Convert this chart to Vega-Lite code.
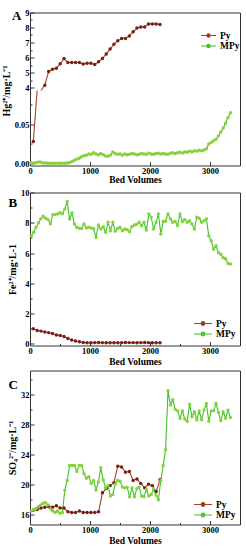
{
  "$schema": "https://vega.github.io/schema/vega-lite/v6.json",
  "padding": {"left": 0, "top": 7.5, "right": 3, "bottom": 1},
  "spacing": 3,
  "datasets": {
    "rows": [
      {"s":"Py","bv":55,"hg":0.028,"fe":1.0,"so4":16.5},
      {"s":"Py","bv":119,"hg":0.12,"fe":0.89,"so4":16.6},
      {"s":"Py","bv":183,"hg":3.0,"fe":0.85,"so4":16.8},
      {"s":"Py","bv":247,"hg":4.15,"fe":0.79,"so4":16.9},
      {"s":"Py","bv":311,"hg":5.07,"fe":0.75,"so4":17.0},
      {"s":"Py","bv":375,"hg":5.22,"fe":0.69,"so4":16.9},
      {"s":"Py","bv":439,"hg":5.29,"fe":0.6,"so4":17.1},
      {"s":"Py","bv":503,"hg":5.58,"fe":0.56,"so4":16.8},
      {"s":"Py","bv":567,"hg":5.93,"fe":0.49,"so4":16.8},
      {"s":"Py","bv":631,"hg":5.67,"fe":0.36,"so4":16.3},
      {"s":"Py","bv":695,"hg":5.67,"fe":0.26,"so4":16.2},
      {"s":"Py","bv":759,"hg":5.67,"fe":0.2,"so4":16.2},
      {"s":"Py","bv":823,"hg":5.67,"fe":0.15,"so4":16.4},
      {"s":"Py","bv":887,"hg":5.56,"fe":0.1,"so4":16.2},
      {"s":"Py","bv":951,"hg":5.62,"fe":0.08,"so4":16.2},
      {"s":"Py","bv":1015,"hg":5.62,"fe":0.08,"so4":16.2},
      {"s":"Py","bv":1079,"hg":5.53,"fe":0.09,"so4":16.2},
      {"s":"Py","bv":1143,"hg":5.71,"fe":0.1,"so4":16.3},
      {"s":"Py","bv":1207,"hg":5.93,"fe":0.09,"so4":18.84},
      {"s":"Py","bv":1271,"hg":6.24,"fe":0.08,"so4":19.4},
      {"s":"Py","bv":1335,"hg":6.56,"fe":0.08,"so4":19.8},
      {"s":"Py","bv":1399,"hg":6.89,"fe":0.08,"so4":20.2},
      {"s":"Py","bv":1463,"hg":7.11,"fe":0.08,"so4":22.4},
      {"s":"Py","bv":1527,"hg":7.27,"fe":0.09,"so4":22.3},
      {"s":"Py","bv":1591,"hg":7.27,"fe":0.1,"so4":21.6},
      {"s":"Py","bv":1655,"hg":7.44,"fe":0.09,"so4":21.7},
      {"s":"Py","bv":1719,"hg":7.71,"fe":0.09,"so4":20.5},
      {"s":"Py","bv":1783,"hg":7.96,"fe":0.08,"so4":20.7},
      {"s":"Py","bv":1847,"hg":8.04,"fe":0.09,"so4":20.1},
      {"s":"Py","bv":1911,"hg":8.04,"fe":0.1,"so4":19.5},
      {"s":"Py","bv":1975,"hg":8.24,"fe":0.09,"so4":20.0},
      {"s":"Py","bv":2039,"hg":8.24,"fe":0.08,"so4":19.8},
      {"s":"Py","bv":2103,"hg":8.24,"fe":0.08,"so4":19.0},
      {"s":"Py","bv":2167,"hg":8.2,"fe":0.08,"so4":20.6},
      {"s":"MPy","bv":20,"hg":0.001,"fe":7.14,"so4":16.44},
      {"s":"MPy","bv":60,"hg":0.001,"fe":7.37,"so4":16.6},
      {"s":"MPy","bv":100,"hg":0.0015,"fe":7.7,"so4":16.75},
      {"s":"MPy","bv":140,"hg":0.0025,"fe":7.99,"so4":17.0},
      {"s":"MPy","bv":180,"hg":0.002,"fe":8.26,"so4":17.2},
      {"s":"MPy","bv":220,"hg":0.001,"fe":8.43,"so4":17.45},
      {"s":"MPy","bv":260,"hg":0.001,"fe":8.3,"so4":17.5},
      {"s":"MPy","bv":300,"hg":0.0008,"fe":8.21,"so4":17.2},
      {"s":"MPy","bv":340,"hg":0.0008,"fe":7.94,"so4":16.7},
      {"s":"MPy","bv":380,"hg":0.0008,"fe":8.54,"so4":16.4},
      {"s":"MPy","bv":420,"hg":0.0008,"fe":8.54,"so4":16.2},
      {"s":"MPy","bv":460,"hg":0.0008,"fe":8.59,"so4":16.4},
      {"s":"MPy","bv":500,"hg":0.0008,"fe":8.66,"so4":16.1},
      {"s":"MPy","bv":540,"hg":0.0008,"fe":8.59,"so4":16.2},
      {"s":"MPy","bv":580,"hg":0.0008,"fe":8.92,"so4":19.2},
      {"s":"MPy","bv":620,"hg":0.001,"fe":9.41,"so4":20.5},
      {"s":"MPy","bv":660,"hg":0.0015,"fe":8.25,"so4":22.5},
      {"s":"MPy","bv":700,"hg":0.003,"fe":8.65,"so4":22.5},
      {"s":"MPy","bv":740,"hg":0.0045,"fe":7.92,"so4":22.5},
      {"s":"MPy","bv":780,"hg":0.006,"fe":7.7,"so4":21.7},
      {"s":"MPy","bv":820,"hg":0.007,"fe":7.64,"so4":22.5},
      {"s":"MPy","bv":860,"hg":0.009,"fe":7.63,"so4":22.5},
      {"s":"MPy","bv":900,"hg":0.0105,"fe":7.92,"so4":21.4},
      {"s":"MPy","bv":940,"hg":0.011,"fe":7.66,"so4":20.8},
      {"s":"MPy","bv":980,"hg":0.0125,"fe":7.7,"so4":21.0},
      {"s":"MPy","bv":1020,"hg":0.012,"fe":7.66,"so4":20.1},
      {"s":"MPy","bv":1060,"hg":0.014,"fe":7.6,"so4":20.5},
      {"s":"MPy","bv":1100,"hg":0.0125,"fe":7.03,"so4":19.2},
      {"s":"MPy","bv":1140,"hg":0.0115,"fe":7.86,"so4":20.3},
      {"s":"MPy","bv":1180,"hg":0.013,"fe":7.59,"so4":22.2},
      {"s":"MPy","bv":1220,"hg":0.0115,"fe":7.74,"so4":20.6},
      {"s":"MPy","bv":1260,"hg":0.01,"fe":7.37,"so4":19.5},
      {"s":"MPy","bv":1300,"hg":0.0095,"fe":8.03,"so4":19.8},
      {"s":"MPy","bv":1340,"hg":0.011,"fe":7.48,"so4":18.4},
      {"s":"MPy","bv":1380,"hg":0.015,"fe":8.03,"so4":18.6},
      {"s":"MPy","bv":1420,"hg":0.013,"fe":7.45,"so4":20.0},
      {"s":"MPy","bv":1460,"hg":0.012,"fe":7.63,"so4":20.5},
      {"s":"MPy","bv":1500,"hg":0.0125,"fe":7.7,"so4":20.4},
      {"s":"MPy","bv":1540,"hg":0.011,"fe":7.48,"so4":19.6},
      {"s":"MPy","bv":1580,"hg":0.0125,"fe":7.59,"so4":19.5},
      {"s":"MPy","bv":1620,"hg":0.0115,"fe":7.54,"so4":19.6},
      {"s":"MPy","bv":1660,"hg":0.012,"fe":7.41,"so4":18.3},
      {"s":"MPy","bv":1700,"hg":0.013,"fe":7.75,"so4":19.5},
      {"s":"MPy","bv":1740,"hg":0.0125,"fe":7.86,"so4":18.3},
      {"s":"MPy","bv":1780,"hg":0.0115,"fe":7.9,"so4":19.4},
      {"s":"MPy","bv":1820,"hg":0.012,"fe":8.03,"so4":19.6},
      {"s":"MPy","bv":1860,"hg":0.013,"fe":7.81,"so4":18.4},
      {"s":"MPy","bv":1900,"hg":0.0125,"fe":8.03,"so4":18.3},
      {"s":"MPy","bv":1940,"hg":0.012,"fe":7.52,"so4":19.3},
      {"s":"MPy","bv":1980,"hg":0.0135,"fe":8.59,"so4":18.4},
      {"s":"MPy","bv":2020,"hg":0.0125,"fe":8.37,"so4":18.6},
      {"s":"MPy","bv":2060,"hg":0.012,"fe":7.59,"so4":19.4},
      {"s":"MPy","bv":2100,"hg":0.013,"fe":8.03,"so4":18.5},
      {"s":"MPy","bv":2140,"hg":0.0135,"fe":8.59,"so4":17.9},
      {"s":"MPy","bv":2180,"hg":0.0125,"fe":7.26,"so4":20.5},
      {"s":"MPy","bv":2220,"hg":0.013,"fe":8.08,"so4":22.5},
      {"s":"MPy","bv":2260,"hg":0.0125,"fe":8.1,"so4":24.6},
      {"s":"MPy","bv":2300,"hg":0.012,"fe":8.59,"so4":32.5},
      {"s":"MPy","bv":2340,"hg":0.0135,"fe":8.26,"so4":30.6},
      {"s":"MPy","bv":2380,"hg":0.014,"fe":8.03,"so4":31.3},
      {"s":"MPy","bv":2420,"hg":0.013,"fe":8.08,"so4":30.0},
      {"s":"MPy","bv":2460,"hg":0.014,"fe":7.81,"so4":29.8},
      {"s":"MPy","bv":2500,"hg":0.0145,"fe":8.59,"so4":28.8},
      {"s":"MPy","bv":2540,"hg":0.0135,"fe":8.08,"so4":29.8},
      {"s":"MPy","bv":2580,"hg":0.015,"fe":8.21,"so4":28.7},
      {"s":"MPy","bv":2620,"hg":0.0145,"fe":8.03,"so4":28.4},
      {"s":"MPy","bv":2660,"hg":0.016,"fe":8.14,"so4":30.7},
      {"s":"MPy","bv":2700,"hg":0.015,"fe":7.92,"so4":29.0},
      {"s":"MPy","bv":2740,"hg":0.0165,"fe":7.59,"so4":29.7},
      {"s":"MPy","bv":2780,"hg":0.016,"fe":8.37,"so4":28.6},
      {"s":"MPy","bv":2820,"hg":0.017,"fe":8.3,"so4":29.8},
      {"s":"MPy","bv":2860,"hg":0.0165,"fe":8.03,"so4":28.6},
      {"s":"MPy","bv":2900,"hg":0.0175,"fe":8.14,"so4":29.9},
      {"s":"MPy","bv":2940,"hg":0.019,"fe":8.26,"so4":30.8},
      {"s":"MPy","bv":2980,"hg":0.025,"fe":7.14,"so4":28.4},
      {"s":"MPy","bv":3020,"hg":0.027,"fe":6.81,"so4":29.8},
      {"s":"MPy","bv":3060,"hg":0.029,"fe":6.26,"so4":29.8},
      {"s":"MPy","bv":3100,"hg":0.031,"fe":6.48,"so4":30.8},
      {"s":"MPy","bv":3140,"hg":0.035,"fe":6.03,"so4":29.6},
      {"s":"MPy","bv":3180,"hg":0.04,"fe":5.92,"so4":28.5},
      {"s":"MPy","bv":3220,"hg":0.045,"fe":5.7,"so4":29.7},
      {"s":"MPy","bv":3260,"hg":0.051,"fe":5.63,"so4":28.8},
      {"s":"MPy","bv":3300,"hg":0.058,"fe":5.32,"so4":29.9},
      {"s":"MPy","bv":3340,"hg":0.064,"fe":5.28,"so4":28.9}
    ]
  },
  "vconcat": [
    {
      "title": {"text": "A", "anchor": "start", "frame": "group", "offset": -14, "dx": -18},
      "width": 210,
      "height": 153,
      "data": {"name": "rows"},
      "resolve": {"scale": {"y": "independent"}, "axis": {"y": "independent"}},
      "layer": [
        {
          "transform": [{"filter": "datum.s == 'Py' && datum.bv > 150"}],
          "encoding": {
            "x": {"field": "bv", "type": "quantitative", "scale": {"domain": [0, 3500], "nice": false},
              "axis": {"title": "Bed Volumes", "values": [0, 500, 1000, 1500, 2000, 2500, 3000, 3500], "format": "d", "labelExpr": "datum.value % 1000 == 0 ? datum.label : ''", "tickSize": {"condition": {"test": "datum.value % 1000 == 0", "value": -4}, "value": -2}, "labelFlush": false, "labelOverlap": false, "labelPadding": 5, "titlePadding": -1, "titleFontSize": 9.5}},
            "y": {"field": "hg", "type": "quantitative", "scale": {"domain": [3.8, 9], "range": [78, 0], "clamp": true, "nice": false, "zero": false},
              "axis": {"title": null, "orient": "left", "values": [4, 4.5, 5, 5.5, 6, 6.5, 7, 7.5, 8, 8.5, 9], "format": ".0f", "labelExpr": "datum.value % 1 == 0 ? datum.label : ''", "tickSize": {"condition": {"test": "datum.value % 1 == 0", "value": -4}, "value": -2}, "labelOverlap": false}}
          },
          "layer": [
            {"mark": {"type": "line", "strokeWidth": 1.1, "clip": false},
              "encoding": {"stroke": {"field": "s", "type": "nominal", "scale": {"domain": ["Py", "MPy"], "range": ["#A0452A", "#3CC22A"]},
                "legend": {"title": null, "orient": "none", "legendX": 170, "legendY": 18, "symbolType": "M-1,0H1M0.22,0A0.22,0.22,0,1,1,-0.22,0A0.22,0.22,0,1,1,0.22,0Z", "symbolSize": 225, "clipHeight": 10, "rowPadding": 0.5, "symbolStrokeWidth": 1.2, "labelOffset": 3}}}},
            {"transform": [{"filter": "datum.hg >= 3.8"}],
              "mark": {"type": "point", "filled": true, "size": 12, "opacity": 1},
              "encoding": {"fill": {"field": "s", "type": "nominal", "scale": {"domain": ["Py", "MPy"], "range": ["#7A1E12", "#86D23A"]},
                "legend": {"title": null, "orient": "none", "legendX": 170, "legendY": 18, "symbolType": "M-1,0H1M0.22,0A0.22,0.22,0,1,1,-0.22,0A0.22,0.22,0,1,1,0.22,0Z", "symbolSize": 225, "clipHeight": 10, "rowPadding": 0.5, "symbolStrokeWidth": 1.2, "labelOffset": 3}}}}
          ]
        },
        {
          "transform": [{"filter": "datum.s == 'MPy' || datum.bv < 150"}],
          "encoding": {
            "x": {"field": "bv", "type": "quantitative", "scale": {"domain": [0, 3500], "nice": false}},
            "y": {"field": "hg", "type": "quantitative", "scale": {"domain": [-0.002, 0.092], "range": [153, 78], "clamp": true, "nice": false, "zero": false},
              "axis": {"title": "Hg²⁺/mg·L⁻¹", "titleY": 78, "orient": "left", "values": [0, 0.025, 0.05, 0.075], "format": ".2f", "labelExpr": "(datum.value == 0 || datum.value == 0.05) ? datum.label : ''", "tickSize": {"condition": {"test": "datum.value == 0 || datum.value == 0.05", "value": -4}, "value": -2}, "labelOverlap": false}}
          },
          "layer": [
            {"mark": {"type": "line", "strokeWidth": 1.1, "clip": false},
              "encoding": {"stroke": {"field": "s", "type": "nominal", "scale": {"domain": ["Py", "MPy"], "range": ["#A0452A", "#3CC22A"]},
                "legend": {"title": null, "orient": "none", "legendX": 170, "legendY": 18, "symbolType": "M-1,0H1M0.22,0A0.22,0.22,0,1,1,-0.22,0A0.22,0.22,0,1,1,0.22,0Z", "symbolSize": 225, "clipHeight": 10, "rowPadding": 0.5, "symbolStrokeWidth": 1.2, "labelOffset": 3}}}},
            {"transform": [{"filter": "datum.hg <= 0.092"}],
              "mark": {"type": "point", "filled": true, "size": 12, "opacity": 1},
              "encoding": {"fill": {"field": "s", "type": "nominal", "scale": {"domain": ["Py", "MPy"], "range": ["#7A1E12", "#86D23A"]},
                "legend": {"title": null, "orient": "none", "legendX": 170, "legendY": 18, "symbolType": "M-1,0H1M0.22,0A0.22,0.22,0,1,1,-0.22,0A0.22,0.22,0,1,1,0.22,0Z", "symbolSize": 225, "clipHeight": 10, "rowPadding": 0.5, "symbolStrokeWidth": 1.2, "labelOffset": 3}}}},
            {"data": {"values": [{}]},
              "mark": {"type": "rule", "strokeDash": [3, 2], "strokeWidth": 0.8, "color": "#333"},
              "encoding": {"y": {"datum": 0.05, "type": "quantitative"}}},
            {"data": {"values": [{}]},
              "mark": {"type": "point", "shape": "M-0.9,0.5L-0.1,-0.5M0.1,0.5L0.9,-0.5", "size": 40, "strokeWidth": 1, "color": "#333", "filled": false, "opacity": 1, "clip": false},
              "encoding": {"x": {"datum": 0, "type": "quantitative"}, "y": {"datum": 0.092, "type": "quantitative"}}},
            {"data": {"values": [{}]},
              "mark": {"type": "point", "shape": "M-0.9,0.5L-0.1,-0.5M0.1,0.5L0.9,-0.5", "size": 40, "strokeWidth": 1, "color": "#333", "filled": false, "opacity": 1, "clip": false},
              "encoding": {"x": {"datum": 3500, "type": "quantitative"}, "y": {"datum": 0.092, "type": "quantitative"}}}
          ]
        }
      ]
    },
    {
      "title": {"text": "B", "anchor": "start", "frame": "group", "offset": -21, "dx": -21.5},
      "width": 210,
      "height": 153,
      "data": {"name": "rows"},
      "encoding": {
        "x": {"field": "bv", "type": "quantitative", "scale": {"domain": [0, 3500], "nice": false},
          "axis": {"title": "Bed Volumes", "values": [0, 500, 1000, 1500, 2000, 2500, 3000, 3500], "format": "d", "labelExpr": "datum.value % 1000 == 0 ? datum.label : ''", "tickSize": {"condition": {"test": "datum.value % 1000 == 0", "value": -4}, "value": -2}, "labelFlush": false, "labelOverlap": false, "labelPadding": 5, "titlePadding": -1, "titleFontSize": 9.5}},
        "y": {"field": "fe", "type": "quantitative", "scale": {"domain": [-0.1, 10], "nice": false, "zero": false},
          "axis": {"title": "Fe²⁺/mg·L-1", "values": [0, 1, 2, 3, 4, 5, 6, 7, 8, 9, 10], "labelExpr": "datum.value % 2 == 0 ? datum.label : ''", "tickSize": {"condition": {"test": "datum.value % 2 == 0", "value": -4}, "value": -2}, "labelOverlap": false}}
      },
      "layer": [
        {"mark": {"type": "line", "strokeWidth": 1.1},
          "encoding": {"stroke": {"field": "s", "type": "nominal", "scale": {"domain": ["Py", "MPy"], "range": ["#A0452A", "#3CC22A"]},
            "legend": {"title": null, "orient": "none", "legendX": 163, "legendY": 126, "symbolType": "M-1,0H1M0.2,0A0.2,0.2,0,1,1,-0.2,0A0.2,0.2,0,1,1,0.2,0Z", "symbolSize": 324, "clipHeight": 10, "rowPadding": 0.5, "symbolStrokeWidth": 1.2, "labelOffset": 3}}}},
        {"mark": {"type": "point", "filled": true, "size": 12, "opacity": 1},
          "encoding": {"fill": {"field": "s", "type": "nominal", "scale": {"domain": ["Py", "MPy"], "range": ["#7A1E12", "#86D23A"]},
            "legend": {"title": null, "orient": "none", "legendX": 163, "legendY": 126, "symbolType": "M-1,0H1M0.2,0A0.2,0.2,0,1,1,-0.2,0A0.2,0.2,0,1,1,0.2,0Z", "symbolSize": 324, "clipHeight": 10, "rowPadding": 0.5, "symbolStrokeWidth": 1.2, "labelOffset": 3}}}}
      ]
    },
    {
      "title": {"text": "C", "anchor": "start", "frame": "group", "offset": -21.5, "dx": -21.5},
      "width": 210,
      "height": 154,
      "data": {"name": "rows"},
      "encoding": {
        "x": {"field": "bv", "type": "quantitative", "scale": {"domain": [0, 3500], "nice": false},
          "axis": {"title": "Bed Volumes", "values": [0, 500, 1000, 1500, 2000, 2500, 3000, 3500], "format": "d", "labelExpr": "datum.value % 1000 == 0 ? datum.label : ''", "tickSize": {"condition": {"test": "datum.value % 1000 == 0", "value": -4}, "value": -2}, "labelFlush": false, "labelOverlap": false, "labelPadding": 5, "titlePadding": -1, "titleFontSize": 9.5}},
        "y": {"field": "so4", "type": "quantitative", "scale": {"domain": [14.6, 35.2], "nice": false, "zero": false},
          "axis": {"title": "SO₄²⁻/mg·L⁻¹", "values": [16, 18, 20, 22, 24, 26, 28, 30, 32, 34], "labelExpr": "(datum.value - 16) % 4 == 0 ? datum.label : ''", "tickSize": {"condition": {"test": "(datum.value - 16) % 4 == 0", "value": -4}, "value": -2}, "labelOverlap": false}}
      },
      "layer": [
        {"mark": {"type": "line", "strokeWidth": 1.1},
          "encoding": {"stroke": {"field": "s", "type": "nominal", "scale": {"domain": ["Py", "MPy"], "range": ["#A0452A", "#3CC22A"]},
            "legend": {"title": null, "orient": "none", "legendX": 163, "legendY": 129, "symbolType": "M-1,0H1M0.2,0A0.2,0.2,0,1,1,-0.2,0A0.2,0.2,0,1,1,0.2,0Z", "symbolSize": 324, "clipHeight": 10, "rowPadding": 0.5, "symbolStrokeWidth": 1.2, "labelOffset": 3}}}},
        {"mark": {"type": "point", "filled": true, "size": 12, "opacity": 1},
          "encoding": {"fill": {"field": "s", "type": "nominal", "scale": {"domain": ["Py", "MPy"], "range": ["#7A1E12", "#86D23A"]},
            "legend": {"title": null, "orient": "none", "legendX": 163, "legendY": 129, "symbolType": "M-1,0H1M0.2,0A0.2,0.2,0,1,1,-0.2,0A0.2,0.2,0,1,1,0.2,0Z", "symbolSize": 324, "clipHeight": 10, "rowPadding": 0.5, "symbolStrokeWidth": 1.2, "labelOffset": 3}}}}
      ]
    }
  ],
  "resolve": {
    "scale": {"stroke": "independent", "fill": "independent", "y": "independent"},
    "legend": {"stroke": "independent", "fill": "independent"}
  },
  "config": {
    "font": "Liberation Serif",
    "view": {"stroke": "#333", "strokeWidth": 1},
    "title": {"font": "Liberation Serif", "fontWeight": "bold", "fontSize": 13, "color": "#000"},
    "axis": {
      "labelFont": "Liberation Serif", "labelFontWeight": "bold", "labelFontSize": 8.5, "labelColor": "#000",
      "titleFont": "Liberation Serif", "titleFontWeight": "bold", "titleFontSize": 10, "titleColor": "#000",
      "domain": false, "grid": false, "tickColor": "#333", "tickWidth": 1, "labelPadding": 5, "titlePadding": 3
    },
    "legend": {"labelFont": "Liberation Serif", "labelFontWeight": "bold", "labelFontSize": 9.5, "labelColor": "#000"}
  }
}
